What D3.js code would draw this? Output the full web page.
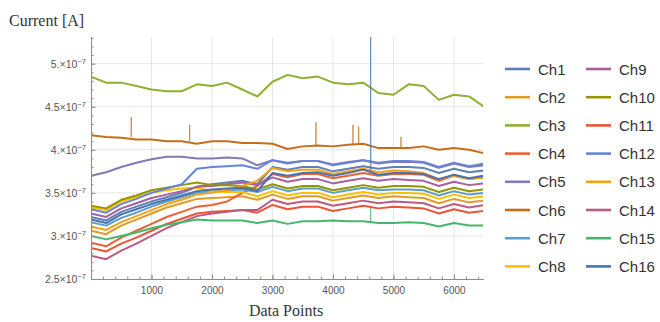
<!DOCTYPE html>
<html>
<head>
<meta charset="utf-8">
<script src="https://d3js.org/d3.v7.min.js"></script>
<style>
  body { margin: 0; background: #fff; }
  svg { display: block; }
</style>
</head>
<body>
<svg id="chart" width="660" height="322"></svg>
<script>
// currents are stored in units of 1e-7 A, sampled every 250 data points
const UNIT = 1e-7;
const xs = [0, 250, 500, 750, 1000, 1250, 1500, 1750, 2000, 2250, 2500, 2750, 3000, 3250,
            3500, 3750, 4000, 4250, 4500, 4750, 5000, 5250, 5500, 5750, 6000, 6250, 6500];

const channels = ["Ch1", "Ch2", "Ch3", "Ch4", "Ch5", "Ch6", "Ch7", "Ch8",
                  "Ch9", "Ch10", "Ch11", "Ch12", "Ch13", "Ch14", "Ch15", "Ch16"];
const colors = ["#5E81B5", "#E19C24", "#8FB032", "#EB6235", "#8778B3", "#C56E1A", "#5D9EC7", "#FFBF00",
                "#A5609D", "#929600", "#E95536", "#6685D9", "#F89F13", "#BC5B80", "#47B66D", "#4A72B0"];

const ch1  = [3.22, 3.18, 3.28, 3.34, 3.40, 3.45, 3.50, 3.57, 3.60, 3.62, 3.64, 3.60, 3.80, 3.77, 3.80, 3.80, 3.75, 3.78, 3.81, 3.78, 3.80, 3.80, 3.79, 3.73, 3.78, 3.74, 3.76];
const ch2  = [3.06, 3.02, 3.12, 3.19, 3.26, 3.33, 3.38, 3.43, 3.44, 3.45, 3.46, 3.42, 3.48, 3.43, 3.46, 3.46, 3.41, 3.44, 3.47, 3.44, 3.46, 3.45, 3.44, 3.38, 3.43, 3.39, 3.41];
const ch3  = [4.85, 4.78, 4.78, 4.74, 4.70, 4.68, 4.68, 4.76, 4.74, 4.78, 4.70, 4.62, 4.79, 4.87, 4.83, 4.85, 4.78, 4.76, 4.78, 4.66, 4.64, 4.76, 4.74, 4.58, 4.64, 4.62, 4.50];
const ch4  = [2.92, 2.88, 2.98, 3.06, 3.14, 3.22, 3.28, 3.34, 3.36, 3.40, 3.50, 3.58, 3.72, 3.68, 3.72, 3.72, 3.67, 3.70, 3.73, 3.70, 3.72, 3.72, 3.71, 3.64, 3.70, 3.66, 3.68];
const ch5  = [3.70, 3.74, 3.80, 3.85, 3.89, 3.92, 3.92, 3.90, 3.90, 3.91, 3.90, 3.82, 3.88, 3.85, 3.87, 3.87, 3.83, 3.86, 3.88, 3.84, 3.86, 3.86, 3.85, 3.79, 3.84, 3.80, 3.82];
const ch6  = [4.17, 4.15, 4.14, 4.12, 4.12, 4.10, 4.10, 4.07, 4.10, 4.10, 4.08, 4.08, 4.07, 4.01, 4.04, 4.05, 4.04, 4.06, 4.07, 4.02, 4.02, 4.02, 4.04, 4.00, 4.02, 4.00, 3.96];
const ch7  = [3.16, 3.12, 3.21, 3.27, 3.34, 3.40, 3.45, 3.50, 3.52, 3.53, 3.54, 3.51, 3.57, 3.52, 3.55, 3.55, 3.50, 3.53, 3.56, 3.53, 3.54, 3.54, 3.53, 3.47, 3.52, 3.48, 3.50];
const ch8  = [3.33, 3.30, 3.40, 3.45, 3.50, 3.53, 3.55, 3.56, 3.52, 3.51, 3.51, 3.46, 3.52, 3.47, 3.50, 3.50, 3.45, 3.48, 3.51, 3.48, 3.50, 3.50, 3.49, 3.43, 3.48, 3.44, 3.46];
const ch9  = [3.26, 3.22, 3.32, 3.38, 3.44, 3.48, 3.52, 3.57, 3.58, 3.60, 3.62, 3.59, 3.68, 3.63, 3.66, 3.66, 3.61, 3.64, 3.67, 3.64, 3.66, 3.65, 3.64, 3.58, 3.63, 3.59, 3.61];
const ch10 = [3.35, 3.32, 3.42, 3.47, 3.53, 3.56, 3.59, 3.62, 3.59, 3.59, 3.58, 3.54, 3.60, 3.55, 3.58, 3.58, 3.53, 3.56, 3.59, 3.56, 3.58, 3.58, 3.57, 3.51, 3.56, 3.52, 3.54];
const ch11 = [2.86, 2.82, 2.91, 2.98, 3.06, 3.14, 3.20, 3.26, 3.28, 3.29, 3.30, 3.27, 3.36, 3.31, 3.34, 3.34, 3.29, 3.32, 3.35, 3.32, 3.34, 3.33, 3.32, 3.26, 3.31, 3.27, 3.29];
const ch12 = [3.31, 3.27, 3.37, 3.43, 3.50, 3.55, 3.60, 3.78, 3.80, 3.81, 3.82, 3.78, 3.88, 3.84, 3.87, 3.87, 3.82, 3.85, 3.88, 3.85, 3.87, 3.87, 3.86, 3.80, 3.85, 3.81, 3.84];
const ch13 = [3.11, 3.07, 3.16, 3.23, 3.30, 3.37, 3.42, 3.48, 3.50, 3.53, 3.58, 3.64, 3.79, 3.75, 3.77, 3.77, 3.72, 3.75, 3.78, 3.74, 3.76, 3.75, 3.73, 3.66, 3.70, 3.66, 3.68];
const ch14 = [2.77, 2.73, 2.83, 2.91, 3.00, 3.09, 3.16, 3.23, 3.26, 3.28, 3.30, 3.30, 3.42, 3.37, 3.40, 3.40, 3.35, 3.38, 3.41, 3.38, 3.40, 3.39, 3.38, 3.32, 3.37, 3.33, 3.36];
const ch15 = [3.00, 2.96, 3.00, 3.04, 3.09, 3.13, 3.16, 3.19, 3.18, 3.18, 3.18, 3.15, 3.18, 3.14, 3.17, 3.17, 3.18, 3.17, 3.17, 3.15, 3.15, 3.16, 3.15, 3.11, 3.15, 3.12, 3.12];
const ch16 = [3.19, 3.15, 3.25, 3.31, 3.37, 3.42, 3.47, 3.52, 3.54, 3.55, 3.56, 3.52, 3.73, 3.70, 3.73, 3.74, 3.70, 3.73, 3.77, 3.71, 3.73, 3.73, 3.72, 3.66, 3.71, 3.67, 3.70];

// single-sample spikes: [channel, data point, level around it, peak]
const spikes = [
  ["Ch6", 666, 4.15, 4.38],
  ["Ch6", 1631, 4.10, 4.29],
  ["Ch6", 3719, 4.05, 4.32],
  ["Ch6", 4331, 4.06, 4.29],
  ["Ch6", 4425, 4.06, 4.27],
  ["Ch6", 5124, 4.03, 4.15],
  ["Ch16", 4623, 3.76, 5.60],
  ["Ch15", 4623, 3.17, 3.33]
];

const xTicks = [1000, 2000, 3000, 4000, 5000, 6000];
const yTicks = [2.5, 3, 3.5, 4, 4.5, 5];
const yTickMantissa = ["2.5", "3.", "3.5", "4.", "4.5", "5."];

const series = [ch1, ch2, ch3, ch4, ch5, ch6, ch7, ch8, ch9, ch10, ch11, ch12, ch13, ch14, ch15, ch16];

const svg = d3.select("#chart");
const plot = { left: 91, right: 483, top: 37, bottom: 279 };

const x = d3.scaleLinear().domain([0, 6480]).range([plot.left, plot.right]);
const y = d3.scaleLinear().domain([2.5 * UNIT, 5.31 * UNIT]).range([plot.bottom, plot.top]);

svg.append("defs").append("clipPath").attr("id", "plotclip")
  .append("rect").attr("x", plot.left).attr("y", plot.top)
  .attr("width", plot.right - plot.left).attr("height", plot.bottom - plot.top);

// grid
const grid = svg.append("g").attr("stroke", "#e6e6e6").attr("stroke-width", 1);
grid.selectAll("line.v").data(xTicks).join("line").attr("class", "v")
  .attr("x1", d => x(d)).attr("x2", d => x(d)).attr("y1", plot.top).attr("y2", plot.bottom);
grid.selectAll("line.h").data(yTicks.slice(1)).join("line").attr("class", "h")
  .attr("y1", d => y(d * UNIT)).attr("y2", d => y(d * UNIT)).attr("x1", plot.left).attr("x2", plot.right);

// series
const line = d3.line().x(d => x(d[0])).y(d => y(d[1] * UNIT));
const lines = svg.append("g").attr("clip-path", "url(#plotclip)").attr("fill", "none")
  .attr("stroke-linejoin", "round");

series.forEach((vals, i) => {
  lines.append("path").datum(xs.map((xv, k) => [xv, vals[k]]))
    .attr("stroke", colors[i])
    .attr("stroke-width", 2)
    .attr("d", line);
  // the spikes are single samples, so they render as thin lighter strokes
  spikes.filter(s => s[0] === channels[i]).forEach(s => {
    lines.append("path").datum([[s[1] - 5, s[2]], [s[1], s[3]], [s[1] + 5, s[2]]])
      .attr("stroke", colors[i])
      .attr("stroke-width", 1)
      .attr("stroke-opacity", 0.65)
      .attr("d", line);
  });
});

// axes
const axisColor = "#8c8c8c";
const labelFont = "'Liberation Sans', Arial, sans-serif";

const yMinor = d3.range(25, 54).map(d => d / 10 * UNIT);
svg.append("g").attr("transform", `translate(${plot.left},0)`)
  .call(d3.axisLeft(y).tickValues(yMinor).tickSize(-2.5).tickSizeOuter(0).tickFormat(""))
  .call(g => g.selectAll("line, path").attr("stroke", axisColor));

const yAxis = svg.append("g").attr("transform", `translate(${plot.left},0)`)
  .call(d3.axisLeft(y).tickValues(yTicks.map(d => d * UNIT)).tickSize(-4.5).tickSizeOuter(0)
    .tickPadding(5).tickFormat(""));
yAxis.selectAll("line, path").attr("stroke", axisColor);
yAxis.selectAll(".tick text").each(function (d, i) {
  const t = d3.select(this)
    .attr("font-family", labelFont).attr("font-size", 10.5).attr("fill", "#555");
  t.append("tspan").text(yTickMantissa[i] + "\u00d710");
  t.append("tspan").attr("dy", -4).attr("font-size", 7.5).text("\u22127");
});

const xMinor = d3.range(200, 6481, 200);
svg.append("g").attr("transform", `translate(0,${plot.bottom})`)
  .call(d3.axisBottom(x).tickValues(xMinor).tickSize(-2.5).tickSizeOuter(0).tickFormat(""))
  .call(g => g.selectAll("line, path").attr("stroke", axisColor));

svg.append("g").attr("transform", `translate(0,${plot.bottom})`)
  .call(d3.axisBottom(x).tickValues(xTicks).tickSize(-4.5).tickSizeOuter(0).tickPadding(8)
    .tickFormat(d3.format("d")))
  .call(g => g.selectAll("line, path").attr("stroke", axisColor))
  .call(g => g.selectAll("text").attr("font-family", labelFont).attr("font-size", 10).attr("fill", "#555"));

// titles
svg.append("text").attr("x", 9).attr("y", 26)
  .attr("font-family", "'Liberation Serif', 'Times New Roman', serif").attr("font-size", 16)
  .attr("fill", "#333").text("Current [A]");
svg.append("text").attr("x", 286).attr("y", 316).attr("text-anchor", "middle")
  .attr("font-family", "'Liberation Serif', 'Times New Roman', serif").attr("font-size", 16)
  .attr("fill", "#333").text("Data Points");

// legend, two columns of eight
const legend = svg.append("g").attr("font-family", labelFont).attr("font-size", 15).attr("fill", "#333");
const item = legend.selectAll("g").data(channels).join("g")
  .attr("transform", (d, i) => `translate(${i < 8 ? 505 : 586},${69 + (i % 8) * 28.2})`);
item.append("line").attr("x1", 0).attr("x2", 25).attr("stroke-width", 2.6)
  .attr("stroke", (d, i) => colors[i]);
item.append("text").attr("x", 33).attr("y", 5.5).text(d => d);
</script>
</body>
</html>
